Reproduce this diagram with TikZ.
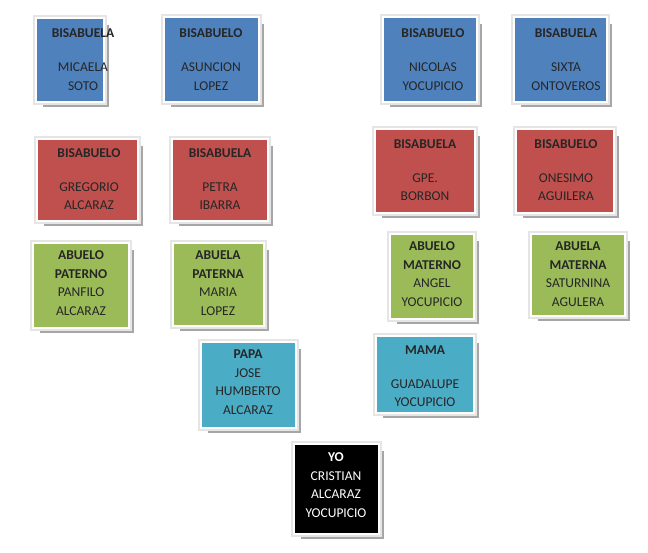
\documentclass[tikz,border=0pt]{standalone}
\usepackage{fontspec}
\setmainfont{Carlito}
\begin{document}
\begin{tikzpicture}[x=1pt,y=-1pt,
  txt/.style={font=\fontsize{13.5}{18.5}\selectfont, align=center, inner sep=0pt, text=black!85},
  ttl/.style={txt, font=\fontsize{13.5}{18.5}\selectfont\bfseries}]
\definecolor{cblue}{HTML}{4F81BD}
\definecolor{cred}{HTML}{C0504D}
\definecolor{cgreen}{HTML}{9BBB59}
\definecolor{caqua}{HTML}{4BACC6}
\useasboundingbox (0,0) rectangle (648,552);
\newcommand\famb[6]{%
  \fill[black!35] (#2+6,#3+6) rectangle (#4+6,#5+6);
  \filldraw[fill=white, draw=black!10, line width=1.5] (#2-3,#3-3) rectangle (#4+3,#5+3);
  \fill[#6] (#2,#3) rectangle (#4,#5);
  \node[inner sep=0pt, minimum size=0pt] (#1) at ({(#2+#4)/2},{(#3+#5)/2}) {};}
\famb{b1}{37}{19}{103}{101}{cblue}
\famb{b2}{165}{18}{258}{101}{cblue}
\famb{b3}{384}{18}{476}{101}{cblue}
\famb{b4}{515}{18}{606}{101}{cblue}
\famb{r1}{38}{140}{137}{220}{cred}
\famb{r2}{173}{140}{267}{220}{cred}
\famb{r3}{376}{130}{474}{212}{cred}
\famb{r4}{517}{130}{613}{212}{cred}
\famb{g1}{34}{244}{128}{327}{cgreen}
\famb{g2}{174}{244}{263}{325}{cgreen}
\famb{g3}{391}{235}{473}{318}{cgreen}
\famb{g4}{532}{235}{624}{315}{cgreen}
\famb{p1}{202}{343}{295}{427}{caqua}
\famb{p2}{377}{337}{473}{412}{caqua}
\famb{yo}{295}{445}{378}{533}{black}
\node[ttl] (b1t) at (83,33) {BISABUELA}; \node[txt] (b1n) at (83,76.5) {MICAELA\\SOTO};
\node[ttl] (b2t) at (211,33) {BISABUELO}; \node[txt] (b2n) at (211,76.5) {ASUNCION\\LOPEZ};
\node[ttl] (b3t) at (433,33) {BISABUELO}; \node[txt] (b3n) at (433,76.5) {NICOLAS\\YOCUPICIO};
\node[ttl] (b4t) at (566,33) {BISABUELA}; \node[txt] (b4n) at (566,76.5) {SIXTA\\ONTOVEROS};
\node[ttl] (r1t) at (89,153) {BISABUELO}; \node[txt] (r1n) at (89,196) {GREGORIO\\ALCARAZ};
\node[ttl] (r2t) at (220,153) {BISABUELA}; \node[txt] (r2n) at (220,196) {PETRA\\IBARRA};
\node[ttl] (r3t) at (425,144) {BISABUELA}; \node[txt] (r3n) at (425,187) {GPE.\\BORBON};
\node[ttl] (r4t) at (566,144) {BISABUELO}; \node[txt] (r4n) at (566,187) {ONESIMO\\AGUILERA};
\node[txt] (g1n) at (81,283) {\textbf{ABUELO}\\\textbf{PATERNO}\\PANFILO\\ALCARAZ};
\node[txt] (g2n) at (218,283) {\textbf{ABUELA}\\\textbf{PATERNA}\\MARIA\\LOPEZ};
\node[txt] (g3n) at (432,274) {\textbf{ABUELO}\\\textbf{MATERNO}\\ANGEL\\YOCUPICIO};
\node[txt] (g4n) at (578,274) {\textbf{ABUELA}\\\textbf{MATERNA}\\SATURNINA\\AGULERA};
\node[txt] (p1n) at (248,382) {\textbf{PAPA}\\JOSE\\HUMBERTO\\ALCARAZ};
\node[ttl] (p2t) at (425,350) {MAMA}; \node[txt] (p2n) at (425,393) {GUADALUPE\\YOCUPICIO};
\node[txt, text=white] (yon) at (336,485) {\textbf{YO}\\CRISTIAN\\ALCARAZ\\YOCUPICIO};
\end{tikzpicture}
\end{document}
